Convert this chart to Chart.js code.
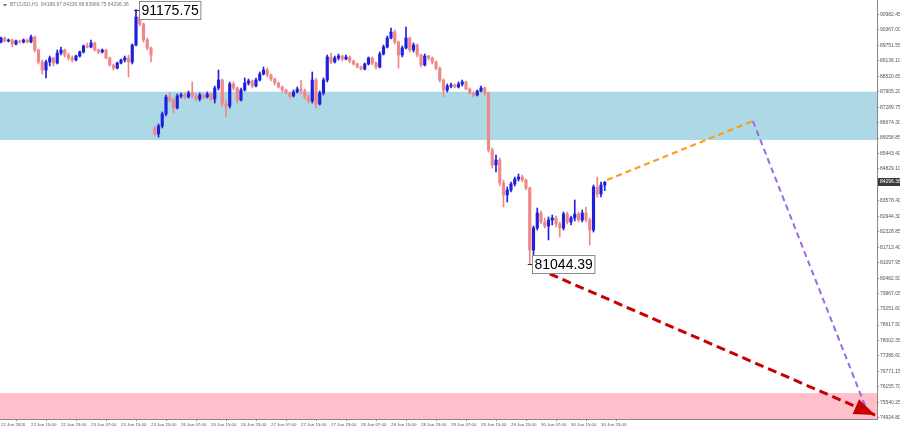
<!DOCTYPE html>
<html><head><meta charset="utf-8">
<script src="https://cdn.jsdelivr.net/npm/chart.js@4.4.1/dist/chart.umd.min.js"></script>
<style>html,body{margin:0;padding:0;background:#fff;overflow:hidden}canvas{display:block}</style>
</head><body>
<canvas id="c" width="900" height="429"></canvas>
<script>
// ---- data (BTCUSD H1 candles, bar index 0 = 22 Jan 07:00) ----
const openP = [89884,90043,89924,89964,89804,89924,89884,89964,89884,90083,89566,89088,88769,89088,89247,89048,89446,89566,89366,89247,89167,89327,89486,89725,89685,89844,89566,89486,89566,89247,88968,88849,89048,89167,89247,89088,89765,90879,90601,89964,89645,
86460,86222,86540,87018,87694,87575,87256,87734,87774,87694,87854,87734,87615,87774,87694,87814,87615,88053,88371,87416,87336,88212,88053,87575,87973,88252,88332,88132,88371,88610,88769,88570,88411,88252,88093,87973,87854,87734,87894,
88013,87933,87694,87535,88371,87416,87854,88371,89287,89088,89247,89327,89207,89287,89128,89008,88889,88809,89008,89247,89048,88889,89406,89685,90043,90282,89884,89366,89645,90043,89566,89765,89366,88968,89327,89247,89088,88849,88371,87973,88132,88172,88093,88212,88292,88013,87854,87774,87933,88053,87854,
85585,84987,85186,84271,83793,83992,84231,84430,84510,84390,84072,81603,82479,83076,82718,82559,82798,82877,82639,82479,83037,82718,82877,83037,82798,83076,82798,82400,84112,83833,84189.97];
const highP = [90083,90083,90003,90003,89964,89964,90003,90003,90163,90123,89605,89167,89167,89327,89287,89566,89685,89605,89446,89327,89366,89526,89765,89844,89964,89884,89605,89605,89605,89287,89008,89088,89207,89327,89366,89804,91175.75,90999,90641,90043,89685,
86540,86620,87097,87774,87854,87655,87814,87854,87854,87933,88292,87814,87854,87814,87894,87854,88132,88769,88411,87575,88292,88292,88093,88053,88451,88411,88371,88451,88690,88889,88849,88610,88451,88292,88132,88013,87894,87973,88093,
88371,88013,87774,88690,88451,87933,88451,89366,89446,89327,89406,89366,89366,89327,89167,89048,88929,89048,89287,89287,89088,89486,89765,90123,90441,90362,89924,89725,90481,90083,89844,89804,89406,89406,89366,89287,89128,88889,88411,88212,88252,88212,88292,88371,88332,88053,87894,87973,88132,88093,87894,
85664,85385,85266,84390,84112,84311,84510,84629,84589,84430,84112,82559,83275,83156,82877,82917,82997,82957,82718,83116,83116,82957,83594,83116,83196,83315,82877,84191,84510,84311,84336.68];
const lowP = [89844,89884,89884,89685,89765,89844,89844,89844,89844,89486,89008,88610,88451,88929,88929,89008,89366,89287,89167,89088,89128,89287,89446,89645,89645,89526,89406,89446,89207,88929,88769,88809,89008,89088,88491,89008,89725,90521,89884,89566,89088,
86142,86102,86460,86938,87495,87058,87217,87655,87615,87655,87655,87535,87535,87615,87655,87535,87456,87973,87336,86898,87256,87973,87456,87535,87933,88172,88053,88093,88332,88570,88491,88332,88172,88053,87894,87814,87655,87694,87854,
87814,87615,87456,87456,87256,87376,87774,88292,89008,89048,89167,89128,89167,89048,88968,88849,88769,88769,88968,88968,88809,88849,89366,89645,90003,89804,88849,89287,89605,89486,89486,89287,88889,88929,89167,89008,88769,88292,87694,87894,88053,88053,88053,88132,87973,87814,87694,87734,87894,87774,85505,
84868,84709,84151,83315,83514,83912,84151,84350,84311,83992,81044.39,81365,82400,82639,82479,82002,82599,82519,82121,82400,82639,82599,82758,82718,82718,82718,81803,82320,83713,83713,83969.75];
const closeP = [90043,89924,89964,89804,89924,89884,89964,89884,90083,89566,89088,88769,89088,89247,89048,89446,89566,89366,89247,89167,89327,89486,89725,89685,89844,89566,89486,89566,89247,88968,88849,89048,89167,89247,89088,89765,90879,90601,89964,89645,89366,
86222,86540,87018,87694,87575,87256,87734,87774,87694,87854,87734,87615,87774,87694,87814,87615,88053,88371,87416,87336,88212,88053,87575,87973,88252,88332,88132,88371,88610,88769,88570,88411,88252,88093,87973,87854,87734,87894,88013,
87933,87694,87535,88371,87416,87854,88371,89287,89088,89247,89327,89207,89287,89128,89008,88889,88809,89008,89247,89048,88889,89406,89685,90043,90282,89884,89366,89645,90043,89566,89765,89366,88968,89327,89247,89088,88849,88371,87973,88132,88172,88093,88212,88292,88013,87854,87774,87933,88053,87854,85585,
84987,85186,84271,83793,83992,84231,84430,84510,84390,84072,81603,82479,83076,82718,82559,82798,82877,82639,82479,83037,82718,82877,83037,82798,83076,82798,82400,84112,83833,84189.97,84296.36];

const xTickBars = [0,8,16,24,32,40,48,56,64,72,80,88,96,104,112,120,128,136,144,152,160];
const xTickLabels = ["22 Jan 2026","22 Jan 15:00","22 Jan 23:00","23 Jan 07:00","23 Jan 15:00","23 Jan 23:00","26 Jan 07:00","26 Jan 15:00","26 Jan 23:00","27 Jan 07:00","27 Jan 15:00","27 Jan 23:00","28 Jan 07:00","28 Jan 15:00","28 Jan 23:00","29 Jan 07:00","29 Jan 15:00","29 Jan 23:00","30 Jan 07:00","30 Jan 15:00","30 Jan 23:00"];
const yTickValues = [90982.45,90367.00,89751.55,89136.10,88520.65,87905.20,87289.75,86674.30,86058.85,85443.40,84829.10,84213.65,83578.40,82944.30,82328.85,81713.40,81097.95,80482.50,79867.05,79251.60,78617.50,78002.35,77386.60,76771.15,76155.70,75540.25,74924.80];

const resistanceZone = [87905, 85983];   // blue
const targetZone = [75911, 74876];       // pink
const orangePath = [[161.6, 84390],[200.5, 86739]];
const purplePath = [[200.5, 86739],[230.7, 75300]];
const redPath = [[142.9, 80875],[233.1, 75035]];
const markHigh = {bar: 36, price: 91175.75};
const markLow = {bar: 141, price: 81044.39};
const symbolName = "BTCUSD,H1";

const xMin = -0.2667, xMax = 233.6, yMin = 74876, yMax = 91556;

// ---- build ----
const idx = openP.map((_, i) => i);
const BLUE = '#2020dc', RED = '#f08888';
const colorAt = i => closeP[i] >= openP[i] ? BLUE : RED;
const toPts = p => p.map(([x, y]) => ({x, y}));
const fontFam = '"Liberation Sans", Arial, sans-serif';

const zonesPlugin = {
  id: 'zones',
  beforeDatasetsDraw(chart) {
    const {ctx, chartArea: a, scales: {y}} = chart;
    ctx.save();
    const z = (r, col) => {
      const t = y.getPixelForValue(r[0]), b = y.getPixelForValue(r[1]);
      ctx.fillStyle = col; ctx.fillRect(a.left, t, a.right - a.left, b - t);
    };
    z(resistanceZone, '#add8e6');
    z(targetZone, '#ffc0cb');
    ctx.restore();
  }
};

const overlayPlugin = {
  id: 'overlay',
  afterDatasetsDraw(chart) {
    const {ctx, scales: {x, y}, chartArea: a} = chart;
    ctx.save();
    // arrowhead on the red path
    const meta = chart.getDatasetMeta(4);
    const p0 = meta.data[0], p1 = meta.data[1];
    const ang = Math.atan2(p1.y - p0.y, p1.x - p0.x);
    const L = 21, W = 8;
    ctx.fillStyle = '#c80000';
    ctx.beginPath();
    ctx.moveTo(p1.x, p1.y);
    ctx.lineTo(p1.x - L*Math.cos(ang) + W*Math.sin(ang), p1.y - L*Math.sin(ang) - W*Math.cos(ang));
    ctx.lineTo(p1.x - L*Math.cos(ang) - W*Math.sin(ang), p1.y - L*Math.sin(ang) + W*Math.cos(ang));
    ctx.closePath(); ctx.fill();

    // price marks
    const mark = (m) => {
      const px = x.getPixelForValue(m.bar), py = y.getPixelForValue(m.price);
      ctx.strokeStyle = '#333'; ctx.lineWidth = 1;
      ctx.beginPath(); ctx.moveTo(px - 2, Math.round(py) + 0.5); ctx.lineTo(px + 3, Math.round(py) + 0.5); ctx.stroke();
      ctx.font = '14px ' + fontFam;
      const txt = m.price.toFixed(2);
      const w = ctx.measureText(txt).width + 4, h = 18;
      const bx = Math.round(px + 2.5) + 0.5, by = Math.round(py - h / 2) + 0.5;
      ctx.fillStyle = '#fff'; ctx.fillRect(bx, by, w, h);
      ctx.strokeStyle = '#8a8a8a'; ctx.strokeRect(bx, by, w, h);
      ctx.fillStyle = '#000'; ctx.textBaseline = 'middle'; ctx.textAlign = 'left';
      ctx.fillText(txt, bx + 2, by + h / 2 + 1);
    };
    mark(markHigh); mark(markLow);

    // current price tag on the axis
    const last = closeP.length - 1;
    const cy = y.getPixelForValue(closeP[last]);
    ctx.fillStyle = '#3a3a3a';
    ctx.fillRect(a.right + 1, Math.round(cy) - 4, 900 - a.right - 1, 8);
    ctx.fillStyle = '#fff'; ctx.font = '5px ' + fontFam; ctx.textBaseline = 'middle';
    ctx.fillText(closeP[last].toFixed(2), a.right + 3, Math.round(cy));

    // header
    ctx.fillStyle = '#666';
    ctx.beginPath(); ctx.moveTo(3, 4); ctx.lineTo(7, 4); ctx.lineTo(5, 6.5); ctx.closePath(); ctx.fill();
    ctx.font = '5px ' + fontFam; ctx.textBaseline = 'middle'; ctx.fillStyle = '#777';
    ctx.fillText(symbolName + '  ' + [openP[last], highP[last], lowP[last], closeP[last]].map(v => v.toFixed(2)).join(' '), 10, 5);
    ctx.restore();
  }
};

const zeroPad = (s) => { s.paddingTop = 0; s.paddingBottom = 0; s.paddingLeft = 0; s.paddingRight = 0; };

new Chart(document.getElementById('c'), {
  type: 'bar',
  data: {
    datasets: [
      {type: 'bar', data: idx.map(i => ({x: i, y: [lowP[i], highP[i]]})), barThickness: 1, grouped: false,
       backgroundColor: c => colorAt(c.dataIndex), borderWidth: 0, order: 3},
      {type: 'bar', data: idx.map(i => ({x: i, y: [openP[i], closeP[i]]})), barThickness: 2.5, grouped: false, minBarLength: 1,
       backgroundColor: c => colorAt(c.dataIndex), borderWidth: 0, order: 2},
      {type: 'line', data: toPts(orangePath), borderColor: '#ff9a1a', borderWidth: 2, borderDash: [6, 4], pointRadius: 0, order: 1},
      {type: 'line', data: toPts(purplePath), borderColor: '#9a6ae6', borderWidth: 2, borderDash: [6, 4], pointRadius: 0, order: 1},
      {type: 'line', data: toPts(redPath), borderColor: '#c80000', borderWidth: 3, borderDash: [9, 5], pointRadius: 0, order: 0}
    ]
  },
  options: {
    responsive: false, animation: false, devicePixelRatio: 1,
    layout: {padding: 0},
    plugins: {legend: {display: false}, tooltip: {enabled: false}},
    scales: {
      x: {
        type: 'linear', min: xMin, max: xMax, offset: false,
        grid: {display: true, drawOnChartArea: false, drawTicks: true, tickLength: 2, color: '#888'},
        border: {display: true, color: '#888'},
        ticks: {autoSkip: false, maxRotation: 0, minRotation: 0, align: 'start', padding: 1,
                font: {size: 4.4, family: fontFam}, color: '#555',
                callback: (v, i) => xTickLabels[i]},
        afterBuildTicks: ax => { ax.ticks = xTickBars.map(v => ({value: v})); },
        afterFit: ax => { ax.height = 10; zeroPad(ax); }
      },
      y: {
        type: 'linear', position: 'right', min: yMin, max: yMax,
        grid: {display: true, drawOnChartArea: false, drawTicks: true, tickLength: 2, color: '#888'},
        border: {display: true, color: '#888'},
        ticks: {padding: 1, font: {size: 5, family: fontFam}, color: '#555',
                callback: v => Number(v).toFixed(2)},
        afterBuildTicks: ax => { ax.ticks = yTickValues.map(v => ({value: v})); },
        afterFit: ax => { ax.width = 23; zeroPad(ax); }
      }
    }
  },
  plugins: [zonesPlugin, overlayPlugin]
});
</script>
</body></html>
